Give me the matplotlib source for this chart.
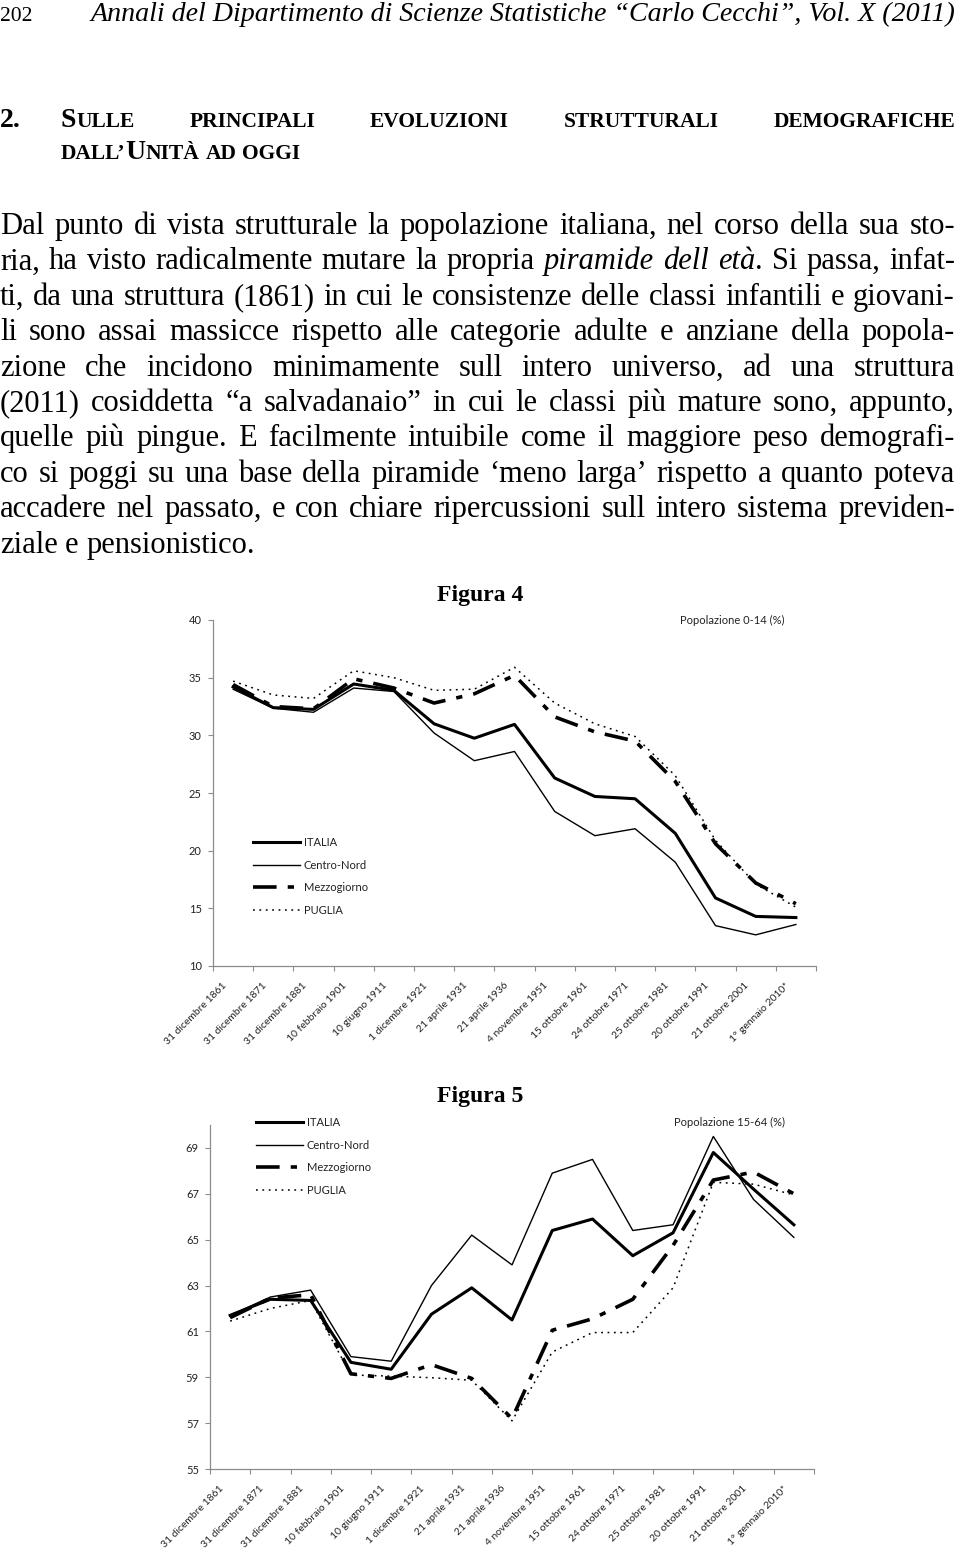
import matplotlib
matplotlib.use("Agg")
import matplotlib.pyplot as plt
from matplotlib.transforms import Affine2D
import numpy as np

plt.rcParams["lines.scale_dashes"] = False
plt.rcParams["font.family"] = ["Lato", "DejaVu Sans"]

W, H = 960, 1559
SERIF = "Liberation Serif"

# ---------------- data ----------------
dates = ["31 dicembre 1861", "31 dicembre 1871", "31 dicembre 1881", "10 febbraio 1901",
         "10 giugno 1911", "1 dicembre 1921", "21 aprile 1931", "21 aprile 1936",
         "4 novembre 1951", "15 ottobre 1961", "24 ottobre 1971", "25 ottobre 1981",
         "20 ottobre 1991", "21 ottobre 2001", "1° gennaio 2010*"]
series_names = ["ITALIA", "Centro-Nord", "Mezzogiorno", "PUGLIA"]

# Figura 4 - Popolazione 0-14 (%)
italia_014 = [34.2, 32.4, 32.25, 34.45, 33.9, 31.0, 29.75, 30.95, 26.3, 24.7, 24.5, 21.5, 15.9, 14.3, 14.2]
centronord_014 = [34.0, 32.35, 32.0, 34.1, 33.8, 30.2, 27.8, 28.6, 23.4, 21.3, 21.9, 19.0, 13.5, 12.7, 13.6]
mezzogiorno_014 = [34.4, 32.5, 32.3, 34.9, 34.1, 32.8, 33.6, 35.2, 31.6, 30.3, 29.5, 26.0, 20.6, 17.2, 15.4]
puglia_014 = [34.7, 33.5, 33.2, 35.6, 35.0, 33.9, 34.0, 35.9, 32.8, 31.0, 29.9, 26.5, 20.9, 17.1, 15.1]

# Figura 5 - Popolazione 15-64 (%)
italia_1564 = [61.7, 62.4, 62.35, 59.65, 59.35, 61.75, 62.9, 61.5, 65.4, 65.9, 64.3, 65.3, 68.8, 67.2, 65.65]
centronord_1564 = [61.7, 62.5, 62.8, 59.9, 59.7, 63.0, 65.2, 63.9, 67.9, 68.5, 65.4, 65.65, 69.5, 66.75, 65.1]
mezzogiorno_1564 = [61.6, 62.45, 62.6, 59.15, 58.95, 59.55, 58.95, 57.2, 61.05, 61.55, 62.4, 64.75, 67.6, 67.95, 67.0]
puglia_1564 = [61.45, 62.0, 62.35, 59.1, 59.05, 58.98, 58.87, 57.1, 60.1, 60.95, 60.95, 62.9, 67.5, 67.42, 66.95]

header_page = "202"
header_text = "Annali del Dipartimento di Scienze Statistiche “Carlo Cecchi”, Vol. X (2011)"
title_line1 = "Sulle principali evoluzioni strutturali demografiche"
title_line2 = "dall’Unità ad oggi"
body = [
    "Dal punto di vista strutturale la popolazione italiana, nel corso della sua sto-",
    "ria, ha visto radicalmente mutare la propria *piramide* *dell* *età*. Si passa, infat-",
    "ti, da una struttura (1861) in cui le consistenze delle classi infantili e giovani-",
    "li sono assai massicce rispetto alle categorie adulte e anziane della popola-",
    "zione che incidono minimamente sull intero universo, ad una struttura",
    "(2011) cosiddetta “a salvadanaio” in cui le classi più mature sono, appunto,",
    "quelle più pingue. E facilmente intuibile come il maggiore peso demografi-",
    "co si poggi su una base della piramide ‘meno larga’ rispetto a quanto poteva",
    "accadere nel passato, e con chiare ripercussioni sull intero sistema previden-",
    "ziale e pensionistico.",
]

fig = plt.figure(figsize=(W / 100, H / 100), dpi=100)
# pixel coordinates measured from the top-left corner
px = Affine2D().scale(1 / W, -1 / H).translate(0, 1) + fig.transFigure
renderer = fig.canvas.get_renderer()


def make_word(pieces):
    out = []
    for text, kw in pieces:
        t = fig.text(0, 0, text, transform=px, va="baseline", ha="left", family=SERIF, **kw)
        out.append((t, t.get_window_extent(renderer).width))
    return out


def set_line(words, y, left, right=None, space=7.5):
    built = [make_word(p) for p in words]
    widths = [sum(w for _, w in b) for b in built]
    gap = space if right is None else (right - left - sum(widths)) / (len(built) - 1)
    x = left
    for b, wsum in zip(built, widths):
        xx = x
        for t, w in b:
            t.set_position((xx, y))
            xx += w
        x += wsum + gap


def body_words(line, size=22):
    words, italic = [], False
    for w in line.split():
        pieces = []
        for i, p in enumerate(w.split("*")):
            if i > 0:
                italic = not italic
            if p:
                pieces.append((p, dict(size=size, style="italic" if italic else "normal")))
        words.append(pieces)
    return words


def small_caps(line, big=20, small=15.5):
    words = []
    for w in line.split():
        pieces = []
        for ch in w:
            sz = big if ch.isupper() else small
            if pieces and pieces[-1][1]["size"] == sz:
                pieces[-1] = (pieces[-1][0] + ch.upper(), pieces[-1][1])
            else:
                pieces.append((ch.upper(), dict(size=sz, weight="bold")))
        words.append(pieces)
    return words


# ---------------- page header and text ----------------
fig.text(0, 21, header_page, transform=px, family=SERIF, size=15.5, va="baseline")
ht = fig.text(955, 21, header_text, transform=px, family=SERIF, style="italic",
              size=20, va="baseline", ha="right")
ht.set_size(20 * 868 / ht.get_window_extent(renderer).width)

fig.text(0, 127, "2.", transform=px, family=SERIF, size=20, weight="bold", va="baseline")
set_line(small_caps(title_line1), 127, 61, 955)
set_line(small_caps(title_line2), 159, 61, None, space=6)

for i, line in enumerate(body):
    last = i == len(body) - 1
    set_line(body_words(line), 234 + i * 35.4, 0, None if last else 955, space=7.5)


# ---------------- charts ----------------
def chart(left, right, top, bottom, ylim, yticks, data, note, note_y, leg_left, leg_top, fig_label, label_y):
    ax = fig.add_axes([left / W, 1 - bottom / H, (right - left) / W, (bottom - top) / H])
    x = np.arange(len(dates)) + 0.5
    styles = [dict(lw=2.2, ls="-"),
              dict(lw=1.0, ls="-"),
              dict(lw=2.6, ls=(0, (17, 8, 4.5, 8))),
              dict(lw=1.1, ls=(0, (1.3, 3.3)))]
    for name, vals, st in zip(series_names, data, styles):
        ax.plot(x, vals, color="black", label=name, **st)

    ax.set_xlim(0, len(dates))
    ax.set_ylim(*ylim)
    ax.set_yticks(yticks)
    ax.set_xticks(np.arange(len(dates) + 1))
    ax.set_xticklabels([])
    ax.set_xticks(x - 0.2, minor=True)
    ax.set_xticklabels(dates, minor=True, rotation=45, ha="right", va="center",
                       rotation_mode="anchor", fontsize=7.5, color="#222222")
    ax.tick_params(axis="x", which="minor", length=0, pad=13)
    ax.tick_params(axis="both", which="major", length=3.5, width=0.8, color="#8c8c8c",
                   direction="out", labelsize=8, labelcolor="#222222")
    ax.tick_params(axis="y", pad=4.5)
    for s in ["top", "right"]:
        ax.spines[s].set_visible(False)
    for s in ["left", "bottom"]:
        ax.spines[s].set_color("#8c8c8c")
        ax.spines[s].set_linewidth(0.9)

    ax.legend(loc="upper left", bbox_to_anchor=(leg_left / W, 1 - leg_top / H),
              bbox_transform=fig.transFigure, frameon=False, handlelength=4.2,
              handletextpad=0.35, labelspacing=1.05, borderpad=0, borderaxespad=0,
              prop=dict(size=8), labelcolor="#222222")
    fig.text(785, note_y, note, transform=px, ha="right", va="center", size=8, color="#222222")
    fig.text(480, label_y, fig_label, transform=px, ha="center", va="baseline",
             family=SERIF, weight="bold", size=17)
    return ax


chart(213, 816, 620, 966, (10, 40), range(10, 41, 5),
      [italia_014, centronord_014, mezzogiorno_014, puglia_014],
      "Popolazione 0-14 (%)", 620, 253, 837, "Figura 4", 601)

chart(210, 814, 1125, 1469, (55, 70), range(55, 70, 2),
      [italia_1564, centronord_1564, mezzogiorno_1564, puglia_1564],
      "Popolazione 15-64 (%)", 1122, 256, 1117, "Figura 5", 1102)

fig.savefig("out.png", dpi=100)
